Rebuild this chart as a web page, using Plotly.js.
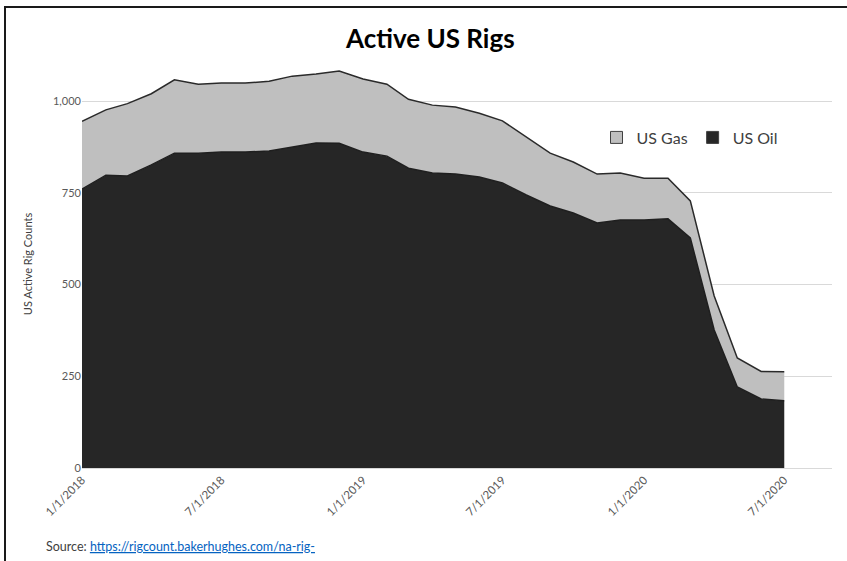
<!DOCTYPE html>
<html>
<head>
<meta charset="utf-8">
<script src="https://cdn.plot.ly/plotly-3.0.1.min.js"></script>
<style>
  html, body { margin: 0; padding: 0; background: #fff; }
  #wrap { position: relative; width: 847px; height: 561px; }
  #chart { width: 847px; height: 561px; }
  #frame { position: absolute; left: 4px; top: 6px; right: 0; bottom: 0;
           border-top: 2px solid #1a1a1a; border-left: 2px solid #1a1a1a; pointer-events: none; }
</style>
</head>
<body>
<div id="wrap">
  <div id="chart"></div>
  <div id="frame"></div>
</div>
<script>
// Monthly dates, Jan 2018 - Jul 2020
const dates = [
  '2018-01-01','2018-02-01','2018-03-01','2018-04-01','2018-05-01','2018-06-01',
  '2018-07-01','2018-08-01','2018-09-01','2018-10-01','2018-11-01','2018-12-01',
  '2019-01-01','2019-02-01','2019-03-01','2019-04-01','2019-05-01','2019-06-01',
  '2019-07-01','2019-08-01','2019-09-01','2019-10-01','2019-11-01','2019-12-01',
  '2020-01-01','2020-02-01','2020-03-01','2020-04-01','2020-05-01','2020-06-01',
  '2020-07-01'
];
const usOil = [760, 798, 796, 826, 858, 858, 861, 861, 864, 875, 886, 885,
               861, 850, 817, 804, 801, 793, 777, 744, 714, 695, 668, 676,
               676, 679, 627, 376, 221, 188, 183];
const usGas = [185, 178, 197, 194, 200, 188, 188, 188, 190, 193, 188, 197,
               199, 196, 188, 185, 183, 174, 169, 158, 144, 139, 133, 128,
               114, 111, 101, 93, 79, 75, 79];
const xTickVals = ['2018-01-01','2018-07-01','2019-01-01','2019-07-01','2020-01-01','2020-07-01'];
const xTickText = ['1/1/2018','7/1/2018','1/1/2019','7/1/2019','1/1/2020','7/1/2020'];
const yTickVals = [0, 250, 500, 750, 1000];
const yTickText = ['0', '250', '500', '750', '1,000'];

const FONT = 'Lato, "Open Sans", sans-serif';
const OIL_FILL = '#262626';
const GAS_FILL = '#bfbfbf';

const traces = [
  {
    x: dates, y: usOil, name: 'US Oil', type: 'scatter', mode: 'lines',
    stackgroup: 'one', showlegend: false,
    line: { color: '#1f1f1f', width: 1.5 },
    fillcolor: OIL_FILL
  },
  {
    x: dates, y: usGas, name: 'US Gas', type: 'scatter', mode: 'lines',
    stackgroup: 'one', showlegend: false,
    line: { color: '#2a2a2a', width: 1.5 },
    fillcolor: GAS_FILL
  },
  // legend-only entries (square swatches like the original)
  {
    x: [null], y: [null], name: 'US Gas', type: 'bar',
    marker: { color: GAS_FILL, line: { color: '#404040', width: 1 } }
  },
  {
    x: [null], y: [null], name: 'US Oil', type: 'bar',
    marker: { color: OIL_FILL, line: { color: '#404040', width: 1 } }
  }
];

const layout = {
  width: 847, height: 561,
  margin: { l: 82, r: 15, t: 60, b: 93 },
  paper_bgcolor: '#ffffff', plot_bgcolor: '#ffffff',
  font: { family: FONT, color: '#595959' },
  title: {
    text: '<b>Active US Rigs</b>',
    font: { family: FONT, size: 26, color: '#000000' },
    x: 0.508, xanchor: 'center', y: 0.93, yanchor: 'middle'
  },
  showlegend: true,
  legend: {
    orientation: 'h', traceorder: 'normal',
    x: 0.686, xanchor: 'left', y: 0.81, yanchor: 'middle',
    font: { family: FONT, size: 16, color: '#404040' },
    bgcolor: 'rgba(0,0,0,0)'
  },
  xaxis: {
    type: 'date',
    range: ['2018-01-01', '2020-09-01'],
    tickmode: 'array', tickvals: xTickVals, ticktext: xTickText,
    tickangle: -45, ticks: '',
    tickfont: { family: FONT, size: 11.5, color: '#595959' },
    showgrid: false, zeroline: false,
    showline: true, linecolor: '#d9d9d9', linewidth: 1
  },
  yaxis: {
    range: [0, 1112],
    tickmode: 'array', tickvals: yTickVals, ticktext: yTickText,
    ticks: '',
    tickfont: { family: FONT, size: 11, color: '#595959' },
    showgrid: true, gridcolor: '#d9d9d9', gridwidth: 1,
    zeroline: false, showline: false,
    title: { text: 'US Active Rig Counts', font: { family: FONT, size: 11, color: '#404040' }, standoff: 18 }
  },
  annotations: [
    {
      xref: 'paper', yref: 'paper', x: -0.051, y: -0.193,
      xanchor: 'left', yanchor: 'middle', showarrow: false,
      text: 'Source: <span style="color:#0563c1;text-decoration:underline">https://rigcount.bakerhughes.com/na-rig-</span>',
      font: { family: FONT, size: 12.5, color: '#404040' }
    }
  ]
};

Plotly.newPlot('chart', traces, layout, { displayModeBar: false, staticPlot: true });
</script>
</body>
</html>
